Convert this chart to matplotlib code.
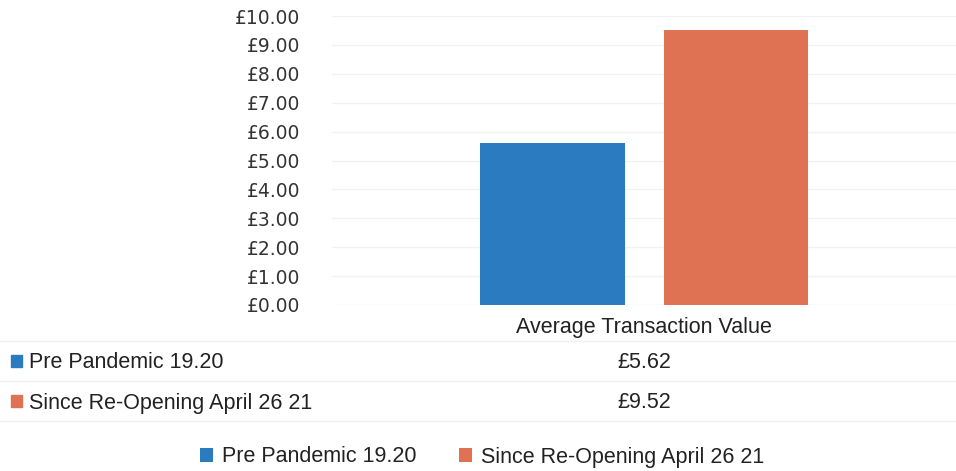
import matplotlib.pyplot as plt
from matplotlib.patches import Rectangle
from matplotlib.lines import Line2D

series = ["Pre Pandemic 19.20", "Since Re-Opening April 26 21"]
values = [5.62, 9.52]
value_labels = ["£5.62", "£9.52"]
category = "Average Transaction Value"
yticks = [0, 1, 2, 3, 4, 5, 6, 7, 8, 9, 10]

colors = ["#2b7bc0", "#e07254"]
narrow = ["DejaVu Sans Condensed", "Liberation Sans", "DejaVu Sans"]

W, H = 956, 471
fig = plt.figure(figsize=(W / 100, H / 100), dpi=100)
ax = fig.add_axes([332 / W, 166 / H, 624 / W, 289 / H])

offsets = [0.3534, 0.6474]
bars = []
for off, v, c in zip(offsets, values, colors):
    b = ax.bar(off, v, width=0.232, color=c, zorder=2)
    bars.append(b)

ax.set_xlim(0, 1)
ax.set_ylim(0, 10)
ax.set_yticks(yticks)
ax.set_yticklabels(["£%.2f" % t for t in yticks], fontsize=13.5, color="#333333")
ax.tick_params(axis="y", length=0, pad=23)
ax.set_xticks([])
for s in ax.spines.values():
    s.set_visible(False)
ax.grid(axis="y", color="#f1f1f1", linewidth=1, zorder=0)

fs = 15.5
# category label
fig.text(644 / W, 1 - 328 / H, category, ha="center", va="center",
         fontsize=fs, family=narrow, stretch="condensed", color="#222222")

# data table
row_y = [361, 401]
for y in [341, 381, 421]:
    fig.add_artist(Line2D([0, 1], [1 - y / H, 1 - y / H], color="#efefef", lw=1))
for name, lab, c, y in zip(series, value_labels, colors, row_y):
    fig.add_artist(Rectangle((11 / W, 1 - (y + 6) / H), 11 / W, 12 / H,
                             color=c, transform=fig.transFigure))
    fig.text(29 / W, 1 - (y + 2) / H, name, ha="left", va="center",
             fontsize=fs, family=narrow, stretch="condensed", color="#222222")
    fig.text(644 / W, 1 - (y + 2) / H, lab, ha="center", va="center",
             fontsize=fs, family=narrow, stretch="condensed", color="#222222")

# legend
leg = fig.legend([b[0] for b in bars], series, loc="center", ncol=2,
                 bbox_to_anchor=(482 / W, 1 - 457 / H), frameon=False,
                 prop={"family": narrow, "size": fs, "stretch": "condensed"},
                 handlelength=0.6, handleheight=0.6, handletextpad=0.4,
                 columnspacing=2.0)
for t in leg.get_texts():
    t.set_color("#222222")

fig.savefig("out.png", dpi=100)
